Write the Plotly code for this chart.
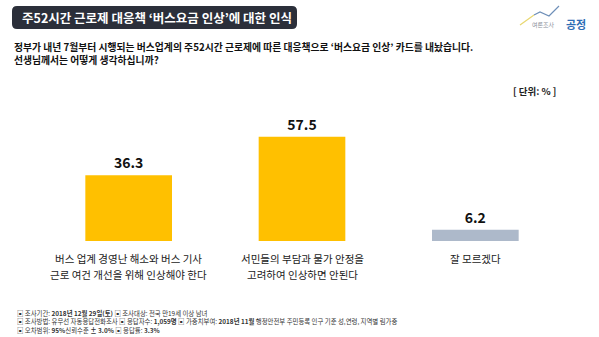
import plotly.graph_objects as go

# Survey result data
categories = [
    "버스 업계 경영난 해소와 버스 기사<br>근로 여건 개선을 위해 인상해야 한다",
    "서민들의 부담과 물가 안정을<br>고려하여 인상하면 안된다",
    "잘 모르겠다",
]
values = [36.3, 57.5, 6.2]
bar_colors = ["#FFC000", "#FFC000", "#ADB9CA"]

title_text = "주52시간 근로제 대응책 ‘버스요금 인상’에 대한 인식"
question_lines = [
    "정부가 내년 7월부터 시행되는 버스업계의 주52시간 근로제에 따른 대응책으로 ‘버스요금 인상’ 카드를 내놨습니다.",
    "선생님께서는 어떻게 생각하십니까?",
]
unit_text = "[ 단위: % ]"
footnotes = [
    "▣ 조사기간: <b>2018년 12월 29일(토)</b> ▣ 조사대상: 전국 만19세 이상 남녀",
    "▣ 조사방법: 유무선 자동응답전화조사 ▣ 응답자수: <b>1,059명</b> ▣ 가중치부여: <b>2018년 11월</b> 행정안전부 주민등록 인구 기준 성,연령, 지역별 림가중",
    "▣ 오차범위: <b>95%</b>신뢰수준 <b>± 3.0%</b> ▣ 응답률: <b>3.3%</b>",
]

W, H = 599, 337
L, R, T, B = 42, 37, 114, 96
PW, PH = W - L - R, H - T - B
FONT = "Noto Sans CJK KR"


def px(x):
    return (x - L) / PW


def py(y):
    return (H - B - y) / PH


positions = list(range(len(categories)))

fig = go.Figure(
    go.Bar(
        x=positions,
        y=values,
        width=0.5,
        marker=dict(color=bar_colors, line=dict(width=0)),
        text=[f"{v:.1f}" for v in values],
        textposition="outside",
        textfont=dict(family=FONT, size=14, color="#111111", weight="bold"),
        cliponaxis=False,
    )
)

fig.update_xaxes(range=[-0.5, 2.5], visible=False)
fig.update_yaxes(range=[0, 70], visible=False)

shapes = []
annotations = []

# Category labels under each bar (one annotation per line for wider leading)
for pos, label in zip(positions, categories):
    for j, part in enumerate(label.split("<br>")):
        annotations.append(dict(x=pos, y=py(258 + j * 16.7), xref="x", yref="paper",
                                xanchor="center", yanchor="middle", showarrow=False,
                                text=part,
                                font=dict(family=FONT, size=10.5, color="#1A1A1A")))

# Dark rounded title banner
x0, x1, y0, y1, r = px(12), px(297), py(6), py(29), 5
rx, ry = r / PW, r / PH
path = (
    f"M {x0 + rx},{y0} L {x1 - rx},{y0} Q {x1},{y0} {x1},{y0 - ry} "
    f"L {x1},{y1 + ry} Q {x1},{y1} {x1 - rx},{y1} "
    f"L {x0 + rx},{y1} Q {x0},{y1} {x0},{y1 + ry} "
    f"L {x0},{y0 - ry} Q {x0},{y0} {x0 + rx},{y0} Z"
)
shapes.append(dict(type="path", xref="paper", yref="paper", path=path,
                   fillcolor="#2B2F3A", line=dict(width=0), layer="above"))
annotations.append(dict(x=px(20), y=py(17.5), xref="paper", yref="paper",
                        xanchor="left", yanchor="middle", showarrow=False,
                        text=title_text,
                        font=dict(family=FONT, size=12.5, color="white", weight="bold")))

# Logo: small trend line with wordmark
shapes.append(dict(type="path", xref="paper", yref="paper",
                   path=f"M {px(520)},{py(25)} L {px(534)},{py(15)}",
                   line=dict(color="#E8D770", width=1.2)))
shapes.append(dict(type="path", xref="paper", yref="paper",
                   path=f"M {px(534)},{py(15)} L {px(540)},{py(12)} L {px(549)},{py(16)} L {px(559)},{py(6)}",
                   line=dict(color="#6E8FB8", width=1.2)))
annotations.append(dict(x=px(543), y=py(24.5), xref="paper", yref="paper",
                        xanchor="center", yanchor="middle", showarrow=False,
                        text="여론조사", font=dict(family=FONT, size=6, color="#8A8F99")))
annotations.append(dict(x=px(564), y=py(24), xref="paper", yref="paper",
                        xanchor="left", yanchor="middle", showarrow=False,
                        text="공정", font=dict(family=FONT, size=11, color="#2F6DB5", weight="bold")))

# Survey question
for i, line in enumerate(question_lines):
    annotations.append(dict(x=px(12), y=py(46.5 + i * 13.5), xref="paper", yref="paper",
                            xanchor="left", yanchor="middle", showarrow=False,
                            text=line,
                            font=dict(family=FONT, size=9.8, color="#111111", weight="bold")))

# Unit note
annotations.append(dict(x=px(558), y=py(91), xref="paper", yref="paper",
                        xanchor="right", yanchor="middle", showarrow=False,
                        text=unit_text,
                        font=dict(family=FONT, size=9.5, color="#222222", weight="bold")))

# Survey methodology footnotes
for i, line in enumerate(footnotes):
    annotations.append(dict(x=px(16), y=py(313 + i * 8.5), xref="paper", yref="paper",
                            xanchor="left", yanchor="middle", showarrow=False,
                            borderpad=0,
                            text=line,
                            font=dict(family=FONT, size=6.4, color="#333333")))

fig.update_layout(
    width=W,
    height=H,
    margin=dict(l=L, r=R, t=T, b=B, autoexpand=False),
    paper_bgcolor="white",
    plot_bgcolor="white",
    showlegend=False,
    shapes=shapes,
    annotations=annotations,
)

fig.write_html("out.html", config={"displayModeBar": False})
